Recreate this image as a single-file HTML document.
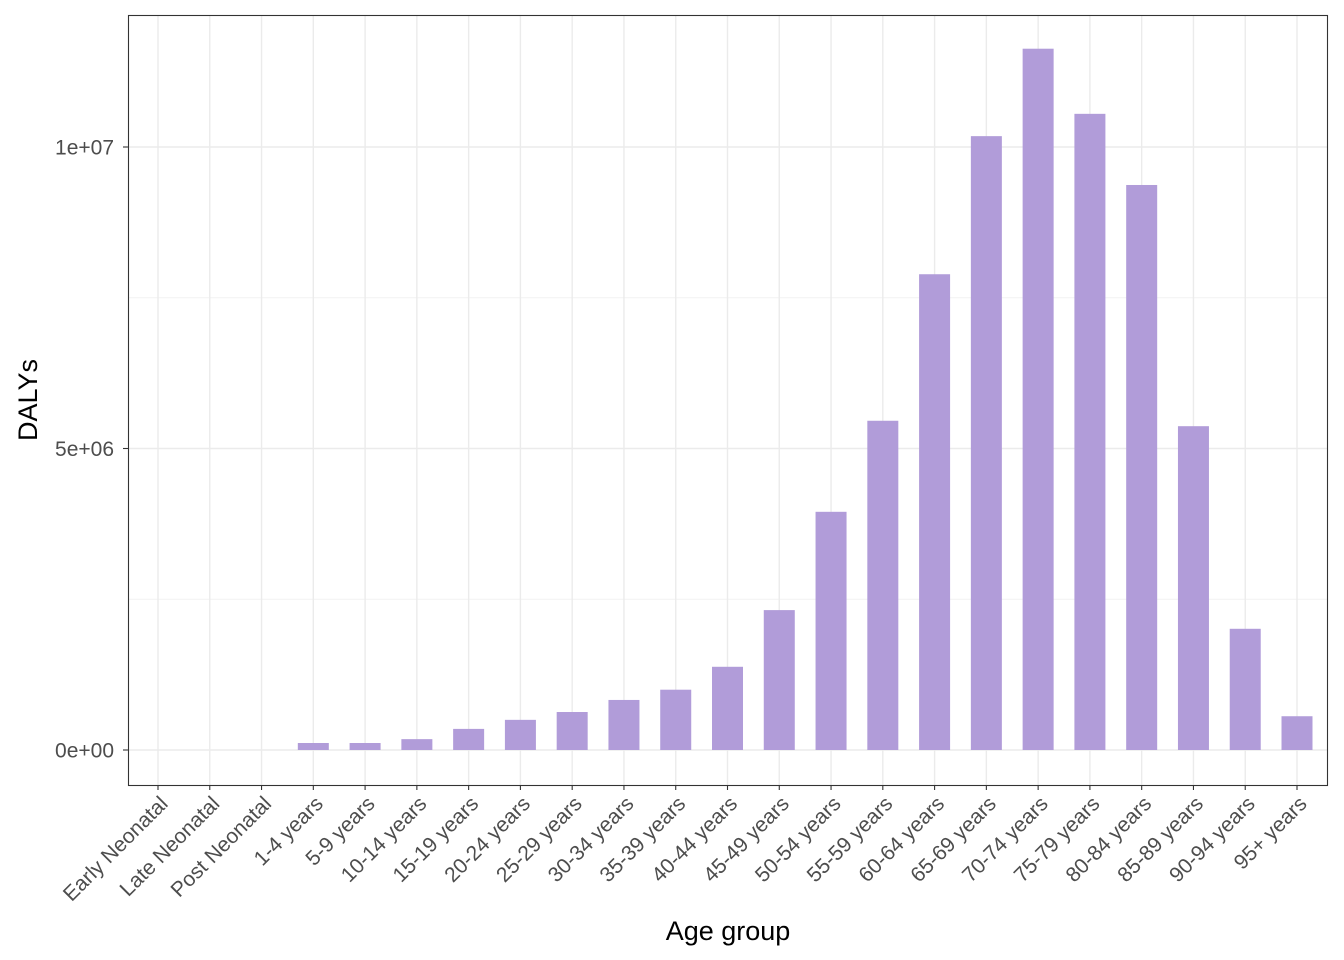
<!DOCTYPE html>
<html><head><meta charset="utf-8"><style>
body{margin:0;background:#fff}
svg{display:block;font-family:"Liberation Sans",Arial,sans-serif}
</style></head><body>
<svg id="chart" width="1344" height="960" xmlns="http://www.w3.org/2000/svg">
<rect width="1344" height="960" fill="#fff"/>
<g id="grid"></g>
<g id="bars"></g>
<rect x="128.5" y="15.5" width="1199" height="770" fill="none" stroke="#333" stroke-width="1.1"/>
<g id="axes"></g>
<text x="728" y="940" font-size="27" text-anchor="middle">Age group</text>
<text transform="translate(37,400) rotate(-90)" font-size="27" text-anchor="middle">DALYs</text>
</svg>
<script>
const categories=["Early Neonatal","Late Neonatal","Post Neonatal","1-4 years","5-9 years","10-14 years","15-19 years","20-24 years","25-29 years","30-34 years","35-39 years","40-44 years","45-49 years","50-54 years","55-59 years","60-64 years","65-69 years","70-74 years","75-79 years","80-84 years","85-89 years","90-94 years","95+ years"];
const dalys=[0,0,0,116000,116000,180000,350000,500000,630000,830000,1000000,1380000,2320000,3950000,5460000,7890000,10180000,11630000,10550000,9370000,5370000,2010000,560000];
const majorTicks=[0,5000000,10000000];
const majorLabels=["0e+00","5e+06","1e+07"];
const minorTicks=[2500000,7500000];
const NS="http://www.w3.org/2000/svg";
const px0=128,px1=1328,py0=15,py1=785;
const y0px=750,perUnit=(750-147)/1e7;
function y(v){return y0px-v*perUnit;}
function x(i){return 158+i*(1297-158)/(categories.length-1);}
const bw=31;
function mk(tag,attrs,parent){const e=document.createElementNS(NS,tag);for(const k in attrs)e.setAttribute(k,attrs[k]);parent.appendChild(e);return e;}
const grid=document.getElementById('grid'),bars=document.getElementById('bars'),axes=document.getElementById('axes');
minorTicks.forEach(v=>{const l=mk('line',{x1:px0,x2:px1,y1:y(v),y2:y(v),stroke:'#f2f2f2','stroke-width':1},grid);

});
majorTicks.forEach(v=>{const l=mk('line',{x1:px0,x2:px1,y1:y(v),y2:y(v),stroke:'#ebebeb','stroke-width':1.4},grid);

});
categories.forEach((c,i)=>{const l=mk('line',{x1:x(i),x2:x(i),y1:py0,y2:py1,stroke:'#ebebeb','stroke-width':1.4},grid);

});
dalys.forEach((v,i)=>{if(v<=0)return;const r=mk('rect',{x:x(i)-bw/2,y:y(v),width:bw,height:y(0)-y(v),fill:'#b19cd9'},bars);

});
majorTicks.forEach((v,k)=>{const t=mk('line',{x1:123,x2:128,y1:y(v),y2:y(v),stroke:'#333','stroke-width':1.1},axes);


const tx=mk('text',{x:114,y:y(v)+7.5,'font-size':21,fill:'#4d4d4d','text-anchor':'end'},axes);tx.textContent=majorLabels[k];

});
categories.forEach((c,i)=>{const t=mk('line',{x1:x(i),x2:x(i),y1:785,y2:790,stroke:'#333','stroke-width':1.1},axes);


const tx=mk('text',{transform:`translate(${x(i)+11},${805}) rotate(-45)`,'font-size':21,fill:'#4d4d4d','text-anchor':'end'},axes);tx.textContent=c;

});
</script>
</body></html>
